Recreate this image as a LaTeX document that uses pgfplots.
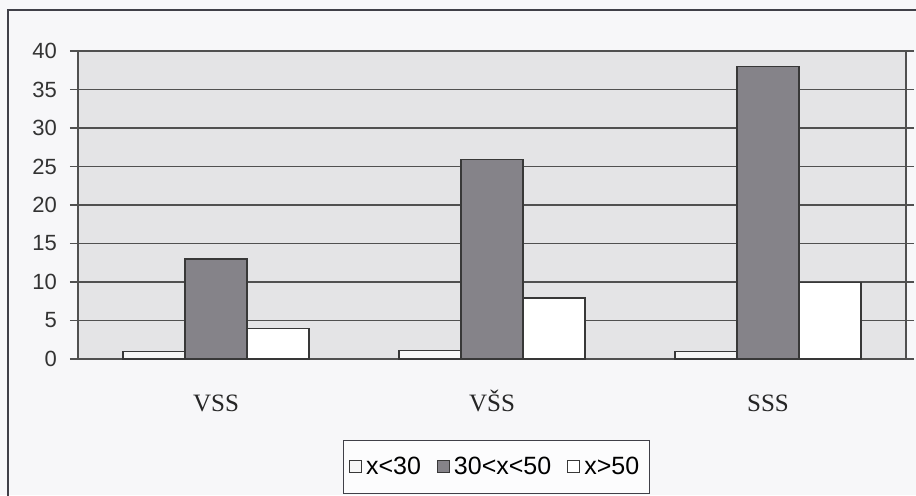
\documentclass[border=0pt]{standalone}
\usepackage{fontspec}
\setmainfont{Liberation Sans}
\newfontfamily\timesf{Liberation Serif}
\usepackage{pgfplots}
\pgfplotsset{compat=1.18}
\definecolor{pagebg}{HTML}{F7F7F9}
\definecolor{plotbg}{HTML}{E4E4E6}
\definecolor{gridc}{HTML}{505050}
\definecolor{barmid}{HTML}{858389}
\definecolor{barlow}{HTML}{F6F6F6}
\definecolor{outl}{HTML}{383838}
\definecolor{framec}{HTML}{404048}
\pgfplotsset{sqleg/.style={legend image code/.code={\draw[##1, line width=0.5pt] (0pt,-3pt) rectangle (6pt,3pt);}}}
\pgfplotstableread{
x low mid high
0 1.0 13.0 4.0
1 1.1 25.9 7.9
2 1.0 38.0 9.9
}\datatab
\begin{document}
\begin{tikzpicture}
\path[use as bounding box, fill=pagebg] (0,0) rectangle (458pt,247.5pt);
\draw[color=framec, line width=0.8pt] (4pt,-5pt) -- (4pt,242.5pt) -- (470pt,242.5pt);
\begin{axis}[
  at={(39pt,68pt)}, anchor=south west,
  scale only axis, width=414pt, height=154pt,
  xmin=-0.5, xmax=2.5, ymin=0, ymax=40,
  ytick={0,5,...,40},
  xtick={0,1,2}, xticklabels={VSS,VŠS,SSS},
  /pgf/number format/assume math mode=true,
  ymajorgrids, grid style={color=gridc, line width=0.6pt},
  axis background/.style={fill=plotbg},
  axis line style={color=gridc, line width=0.6pt},
  tick align=outside, major tick length=4pt,
  xtick style={draw=none},
  ytick style={color=gridc, line width=0.6pt},
  yticklabel style={font=\fontsize{11}{12}\selectfont, color=black!80, xshift=-3pt},
  xticklabel style={font=\timesf\fontsize{12.5}{14}\selectfont, color=black!85,
    text height=8.5pt, text depth=0pt, yshift=-10pt},
  ybar, bar width=31pt,
  enlarge x limits=false,
  legend columns=-1,
  legend style={at={(0.505,-0.35)}, anchor=center, draw=framec, fill=white!60!pagebg,
    font=\fontsize{12.5}{14}\selectfont, inner xsep=3pt, inner ysep=6pt,
    nodes={inner xsep=2pt},
    /tikz/every odd column/.append style={column sep=0pt},
    /tikz/every even column/.append style={column sep=6pt}},
]
\addplot[draw=outl, fill=barlow, line width=0.7pt, bar shift=-31pt, sqleg]
  table[x=x, y=low] {\datatab};
\addlegendentry{x<30}
\addplot[draw=outl, fill=barmid, line width=0.7pt, bar shift=0pt, sqleg]
  table[x=x, y=mid] {\datatab};
\addlegendentry{30<x<50}
\addplot[draw=outl, fill=white, line width=0.7pt, bar shift=31pt, sqleg]
  table[x=x, y=high] {\datatab};
\addlegendentry{x>50}
\end{axis}
\end{tikzpicture}
\end{document}
